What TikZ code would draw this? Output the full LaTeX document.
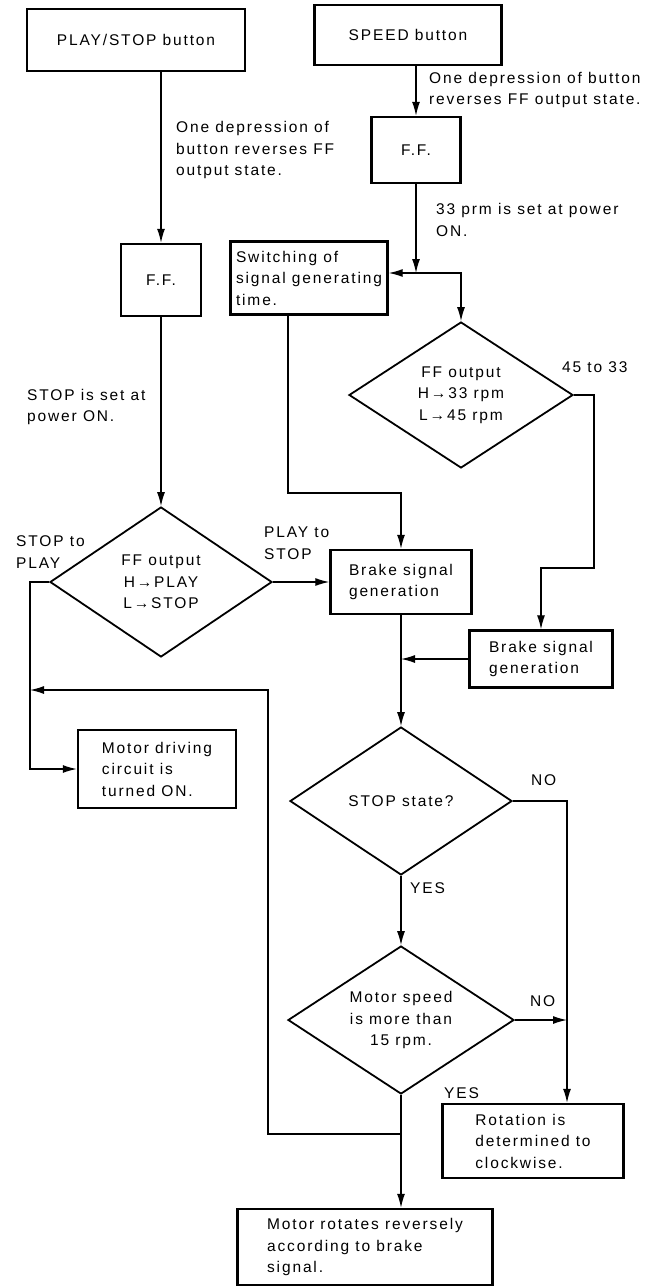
\documentclass[tikz,border=0pt]{standalone}
\usepackage{fontspec}
\setmainfont{Liberation Sans}[LetterSpace=12]
\usetikzlibrary{shapes.geometric,arrows.meta}
\begin{document}
\begin{tikzpicture}[x=1pt,y=-1pt,
  font=\fontsize{15.5}{21.5}\selectfont,
  box/.style={draw, line width=2.4pt, align=left, inner sep=0pt},
  dia/.style={draw, diamond, aspect=1.5, line width=1.8pt, align=center, inner sep=0pt},
  conn/.style={line width=1.3pt},
  arr/.style={conn, -{Latex[length=14pt,width=8pt]}},
  lbl/.style={align=left, anchor=west, inner sep=0pt}
]
\path[use as bounding box, fill=white] (0,0) rectangle (661,1287);

% boxes
\node[box, minimum width=218pt, minimum height=62pt] (play) at (136,40) {PLAY/STOP button};
\node[box, minimum width=187pt, minimum height=60pt] (speed) at (408,35) {SPEED button};
\node[box, minimum width=89pt, minimum height=66pt] (ffR) at (416,150) {F.F.};
\node[box, minimum width=80pt, minimum height=72pt] (ffL) at (161,280) {F.F.};
\node[box, minimum width=157pt, minimum height=73pt] (sw) at (309,278) {Switching of\\signal generating\\time.};
\node[dia, minimum width=224pt, minimum height=146pt] (d1) at (461,395) {FF output\\H→33 rpm\\L→45 rpm};
\node[box, minimum width=141pt, minimum height=64pt] (b1) at (401,582) {Brake signal\\generation};
\node[dia, minimum width=222pt, minimum height=150pt] (d2) at (161,582) {FF output\\H→PLAY\\L→STOP};
\node[box, minimum width=143pt, minimum height=57pt] (b2) at (541,659) {Brake signal\\generation};
\node[box, minimum width=158pt, minimum height=78pt] (md) at (157,769) {Motor driving\\circuit is\\turned ON.};
\node[dia, minimum width=222pt, minimum height=148pt] (d3) at (401,801) {STOP state?};
\node[dia, minimum width=226pt, minimum height=148pt] (d4) at (401,1020) {Motor speed\\is more than\\15 rpm.};
\node[box, minimum width=181pt, minimum height=74pt] (rot) at (533,1141) {Rotation is\\determined to\\clockwise.};
\node[box, minimum width=255pt, minimum height=76pt] (rev) at (365,1247) {Motor rotates reversely\\according to brake\\signal.};

% junction coordinates
\coordinate (J) at (416,273);
\coordinate (c1) at (594,568);
\coordinate (c2) at (288,493);
\coordinate (M1) at (401,659);
\coordinate (L) at (30,690);
\coordinate (F1) at (268,1134);
\coordinate (J2) at (401,1134);
\coordinate (R1) at (567,1020);

% connectors
\draw[arr] (play.south -| ffL.north) -- (ffL.north);
\draw[arr] (speed.south -| ffR.north) -- (ffR.north);
\draw[arr] (ffR.south) -- (J);
\draw[arr] (J) -- (sw.east |- J);
\draw[arr] (J) -| (d1.north);
\draw[arr] (d1.east) -| (c1) -| (b2.north);
\draw[arr] (sw.south -| c2) -- (c2) -| (b1.north);
\draw[arr] (ffL.south) -- (d2.north);
\draw[arr] (d2.east) -- (b1.west);
\draw[arr] (b1.south) -- (d3.north);
\draw[arr] (b2.west) -- (M1);
\draw[arr] (d2.west) -| (md.west -| L) -- (md.west);
\draw[arr] (J2) -- (F1) |- (L);
\draw[arr] (d3.east) -| (rot.north -| R1);
\draw[arr] (d3.south) -- (d4.north);
\draw[arr] (d4.east) -- (R1);
\draw[arr] (d4.south) -- (d4.south |- rev.north);

% labels
\node[lbl] (t1) at (176,150) {One depression of\\button reverses FF\\output state.};
\node[lbl] (t2) at (429,90) {One depression of button\\reverses FF output state.};
\node[lbl] (t3) at (436,220) {33 prm is set at power\\ON.};
\node[lbl] (t4) at (27,407) {STOP is set at\\power ON.};
\node[lbl] (t5) at (562,367) {45 to 33};
\node[lbl] (t6) at (16,552) {STOP to\\PLAY};
\node[lbl] (t7) at (264,543) {PLAY to\\STOP};
\node[lbl] (t8) at (531,780) {NO};
\node[lbl] (t9) at (410,888) {YES};
\node[lbl] (t10) at (530,1001) {NO};
\node[lbl] (t11) at (444,1093) {YES};
\end{tikzpicture}
\end{document}
